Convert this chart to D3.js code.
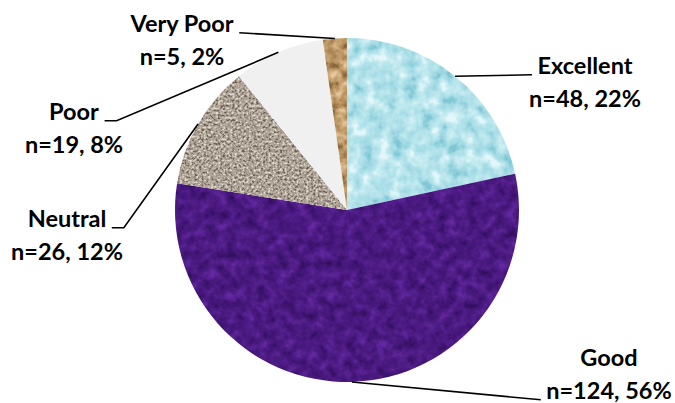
<!DOCTYPE html>
<html>
<head>
<meta charset="utf-8">
<script src="https://cdn.jsdelivr.net/npm/d3@7"></script>
<style>
  html, body { margin: 0; padding: 0; background: #ffffff; }
  svg { display: block; }
  .lbl { font-family: Lato, "Open Sans", sans-serif; font-weight: 700; font-size: 23.5px; fill: #000; }
</style>
</head>
<body>
<svg id="chart" width="675" height="403"></svg>
<script>
// Survey rating distribution
const categories = ["Excellent", "Good", "Neutral", "Poor", "Very Poor"];
const counts = [48, 124, 26, 19, 5];
const percents = [22, 56, 12, 8, 2];

// Texture definitions for each slice (noise frequency, octaves, contrast, colour ramp)
const textures = {
  "Excellent": { freq: 0.07,  oct: 3, seed: 3,  k: 1.9, ramp: ["#80c8d6", "#a2dae4", "#b3e3eb", "#c6ecf1", "#e4f8fa"] },
  "Good":      { freq: 0.1,   oct: 3, seed: 7,  k: 1.6, ramp: ["#33105f", "#411575", "#4b1a81", "#56218f", "#6429a3"] },
  "Neutral":   { freq: 0.42,  oct: 2, seed: 11, k: 2.2, ramp: ["#6a5e53", "#9b8f83", "#ada296", "#c1b7ab", "#e2dbd1"] },
  "Poor":      { flat: "#f0f0f0" },
  "Very Poor": { freq: 0.1,   oct: 3, seed: 5,  k: 2.0, ramp: ["#8a6740", "#ad8656", "#c09a69", "#d0ac7d", "#e4c79b"] }
};

// Label placement: centre x and first baseline of each two-line label
const labelLayout = {
  "Excellent": { x: 585, y: 74,  side: "right", attach: 1 },
  "Good":      { x: 609, y: 366, side: "right", attach: 2 },
  "Neutral":   { x: 67,  y: 227, side: "left",  attach: 1, tail: 12 },
  "Poor":      { x: 74,  y: 120, side: "left",  attach: 1, tail: 12 },
  "Very Poor": { x: 182, y: 32,  side: "left",  attach: 1, tail: 0 }
};

const cx = 347, cy = 210, radius = 172;
const lineGap = 33;

const data = categories.map((c, i) => ({ category: c, count: counts[i], pct: percents[i] }));

const svg = d3.select("#chart");
const defs = svg.append("defs");

function rampChannel(ramp, ch) {
  return ramp.map(c => (d3.rgb(c)[ch] / 255).toFixed(4)).join(" ");
}

const fillFor = {};
data.forEach((d, i) => {
  const t = textures[d.category];
  if (t.flat) { fillFor[d.category] = { fill: t.flat, filter: null }; return; }
  const id = "tex" + i;
  // filter region in the pie group's own coordinates (centred on the pie)
  const f = defs.append("filter")
    .attr("id", id)
    .attr("filterUnits", "userSpaceOnUse")
    .attr("x", -radius - 4).attr("y", -radius - 4)
    .attr("width", 2 * radius + 8).attr("height", 2 * radius + 8)
    .attr("color-interpolation-filters", "sRGB");
  f.append("feTurbulence")
    .attr("type", "fractalNoise")
    .attr("baseFrequency", t.freq)
    .attr("numOctaves", t.oct)
    .attr("seed", t.seed)
    .attr("result", "noise");
  const off = (0.5 - 0.5 * t.k).toFixed(3);
  f.append("feColorMatrix")
    .attr("in", "noise")
    .attr("type", "matrix")
    .attr("values", `${t.k} 0 0 0 ${off}  ${t.k} 0 0 0 ${off}  ${t.k} 0 0 0 ${off}  0 0 0 0 1`)
    .attr("result", "gray");
  const ct = f.append("feComponentTransfer").attr("in", "gray").attr("result", "col");
  ct.append("feFuncR").attr("type", "table").attr("tableValues", rampChannel(t.ramp, "r"));
  ct.append("feFuncG").attr("type", "table").attr("tableValues", rampChannel(t.ramp, "g"));
  ct.append("feFuncB").attr("type", "table").attr("tableValues", rampChannel(t.ramp, "b"));
  f.append("feComposite").attr("in", "col").attr("in2", "SourceGraphic").attr("operator", "in");
  fillFor[d.category] = { fill: t.ramp[2], filter: `url(#${id})` };
});

const pie = d3.pie().sort(null).value(d => d.count).startAngle(0).endAngle(2 * Math.PI);
const arc = d3.arc().innerRadius(0).outerRadius(radius);
const arcs = pie(data);

const g = svg.append("g").attr("transform", `translate(${cx},${cy})`);
g.selectAll("path.slice")
  .data(arcs)
  .join("path")
  .attr("class", "slice")
  .attr("d", arc)
  .attr("fill", d => fillFor[d.data.category].fill)
  .attr("filter", d => fillFor[d.data.category].filter);

// Labels with leader lines from the middle of each slice's rim
const labels = svg.append("g");
arcs.forEach(a => {
  const d = a.data;
  const L = labelLayout[d.category];
  const t1 = labels.append("text").attr("class", "lbl")
    .attr("x", L.x).attr("y", L.y).attr("text-anchor", "middle")
    .text(d.category);
  const t2 = labels.append("text").attr("class", "lbl")
    .attr("x", L.x).attr("y", L.y + lineGap).attr("text-anchor", "middle")
    .text(`n=${d.count}, ${d.pct}%`);

  const target = L.attach === 2 ? t2 : t1;
  const bb = target.node().getBBox();
  const baseY = (L.attach === 2 ? L.y + lineGap : L.y) + 0.8;
  const gap = 5.5;

  const mid = (a.startAngle + a.endAngle) / 2;
  const ex = cx + radius * Math.sin(mid);
  const ey = cy - radius * Math.cos(mid);

  let pts;
  if (L.side === "right") {
    pts = [[ex, ey], [bb.x - gap, baseY]];
  } else {
    const ax = bb.x + bb.width + gap;
    const tail = L.tail || 0;
    pts = tail ? [[ex, ey], [ax + tail, baseY], [ax, baseY]] : [[ex, ey], [ax, baseY]];
  }
  labels.append("path")
    .attr("d", d3.line()(pts))
    .attr("fill", "none")
    .attr("stroke", "#000")
    .attr("stroke-width", 1.6);
});
</script>
</body>
</html>
